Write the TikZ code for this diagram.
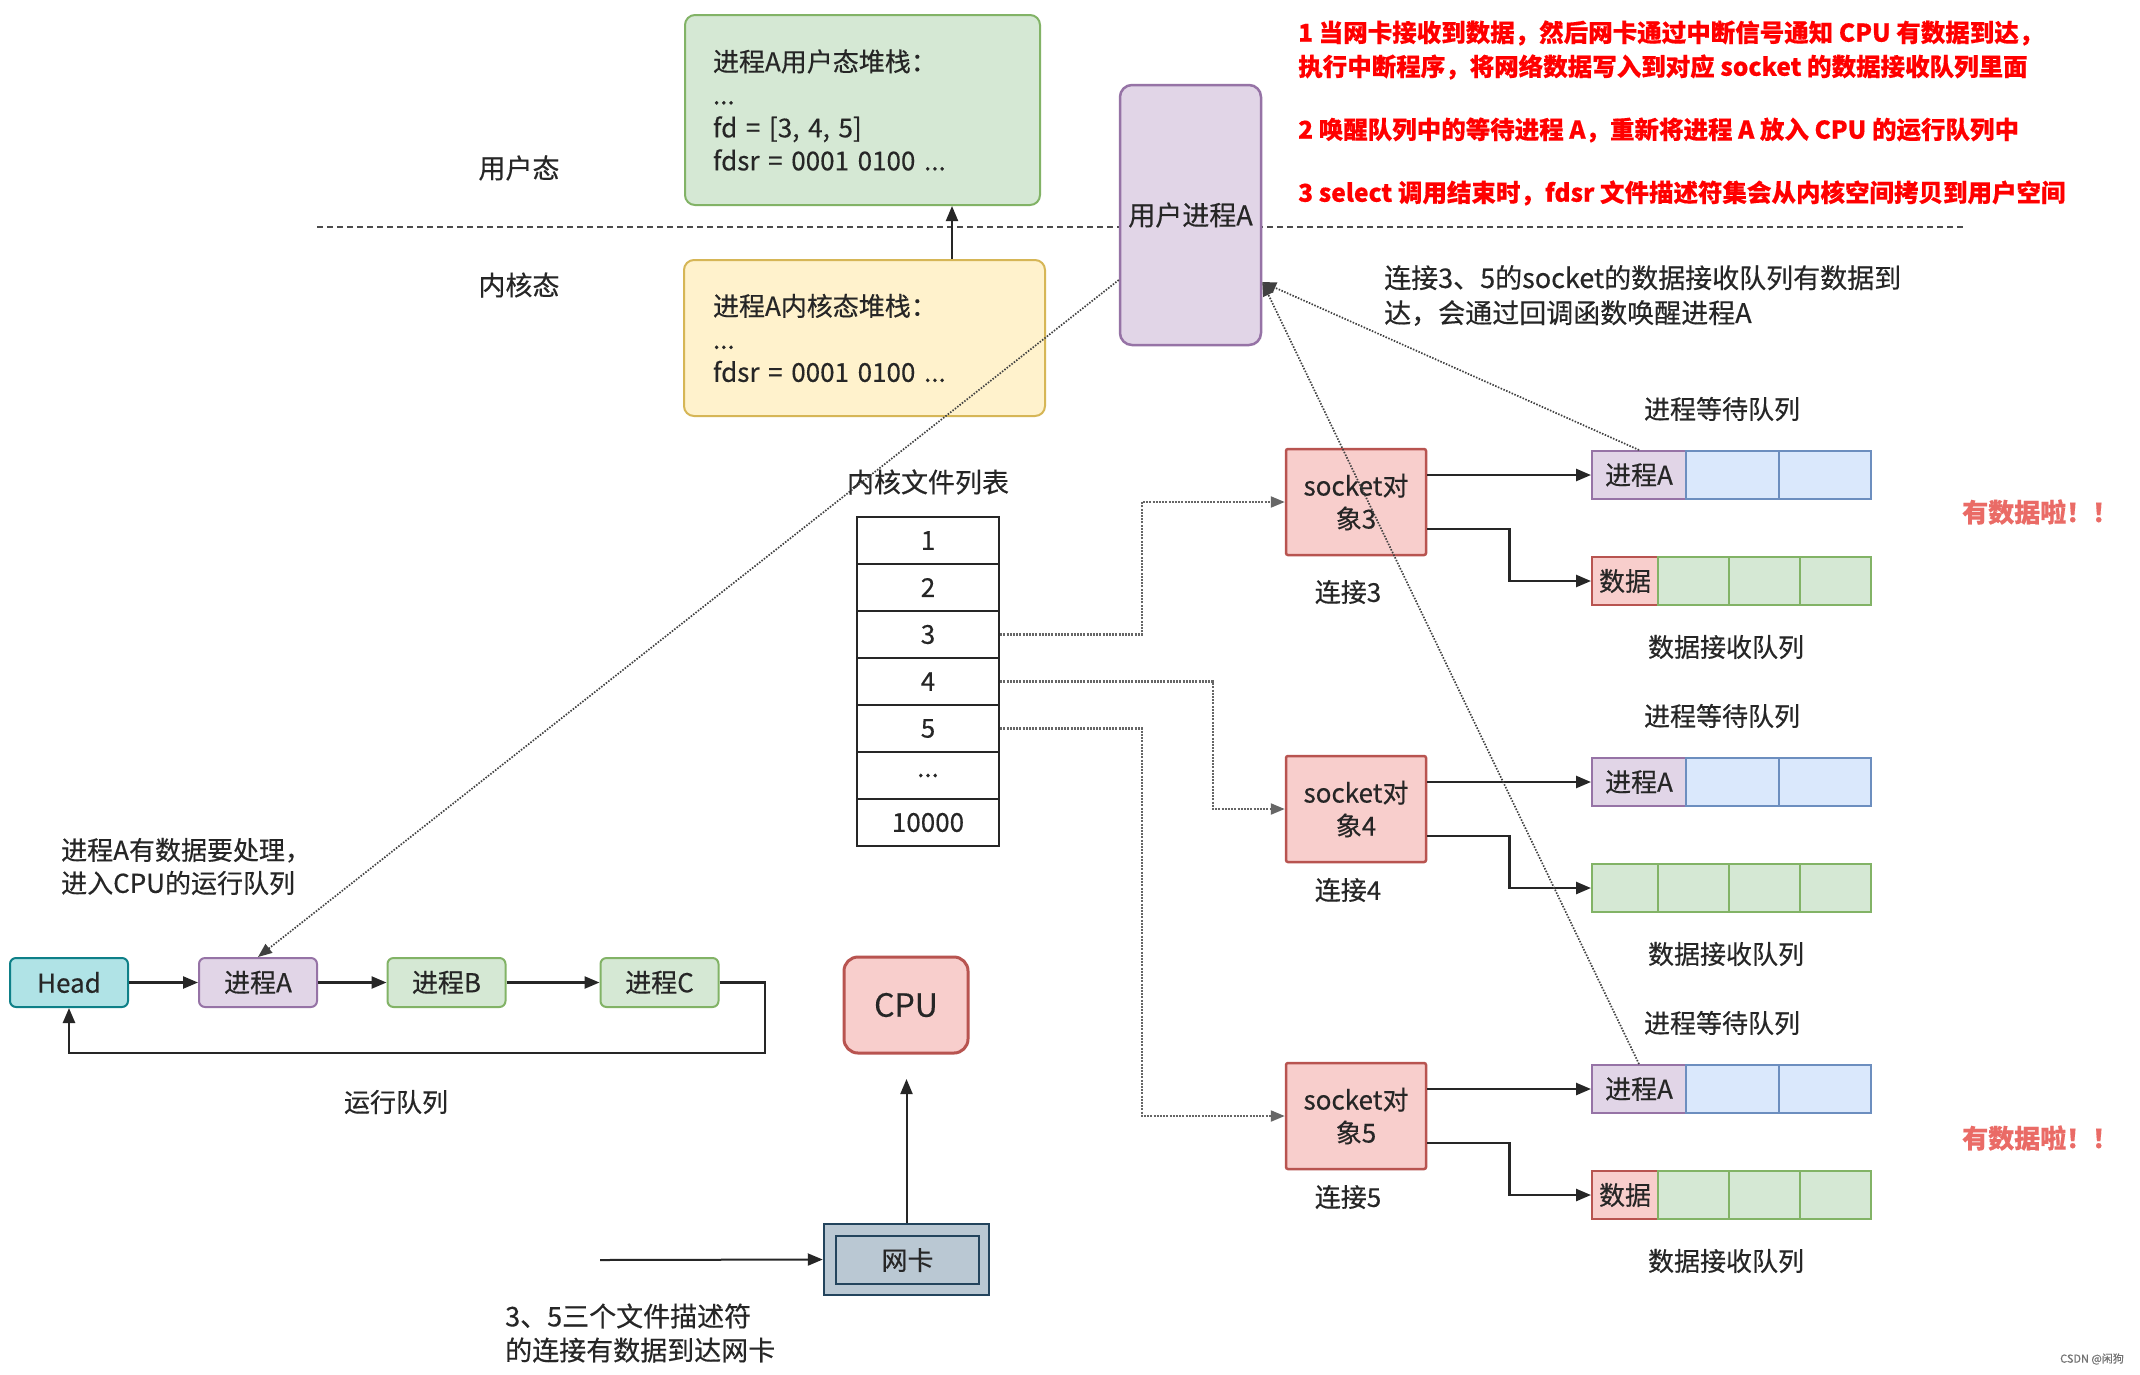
\documentclass[tikz,border=0pt]{standalone}
\usepackage{fontspec}
\setmainfont{Noto Sans CJK SC}[FakeBold=0.4]
\usetikzlibrary{arrows.meta}
\definecolor{tcol}{HTML}{262626}
\definecolor{gF}{HTML}{D5E8D4}\definecolor{gD}{HTML}{82B366}
\definecolor{yF}{HTML}{FFF2CC}\definecolor{yD}{HTML}{D6B656}
\definecolor{pF}{HTML}{E1D5E7}\definecolor{pD}{HTML}{9673A6}
\definecolor{rF}{HTML}{F8CECC}\definecolor{rD}{HTML}{B85450}
\definecolor{bF}{HTML}{DAE8FC}\definecolor{bD}{HTML}{6C8EBF}
\definecolor{cF}{HTML}{B0E3E6}\definecolor{cD}{HTML}{0E8088}
\definecolor{nF}{HTML}{BAC8D3}\definecolor{nD}{HTML}{23445D}
\definecolor{redtxt}{HTML}{FF0000}
\definecolor{pinktxt}{HTML}{EA6B66}
\newcommand\tdots{...}
\begin{document}
\begin{tikzpicture}[x=1pt,y=-1pt,
  base/.style={font=\fontsize{26}{33}\selectfont, text=tcol},
  box/.style={base, draw, line width=2pt, inner sep=0pt, align=center},
  rq/.style={box, rounded corners=6pt, minimum width=118pt, minimum height=49pt},
  sock/.style={box, fill=rF, draw=rD, line width=2.5pt, minimum width=140pt, minimum height=106pt, rounded corners=2pt},
  qc/.style={base, draw, line width=2pt, inner sep=0pt, minimum height=48pt},
  cell/.style={base, draw=black!85, line width=2.5pt, inner sep=0pt, minimum width=142pt, minimum height=47pt},
  redt/.style={font=\bfseries\fontsize{24.5}{30}\selectfont, text=redtxt, anchor=west, inner sep=0pt},
  arr/.style={-{Triangle[length=15pt,width=12pt]}, line width=2.5pt, draw=black!85},
  tbl/.style={dash pattern=on 2pt off 1.2pt, line width=2.2pt, draw=black!60, -{Triangle[length=14pt,width=11pt]}},
  fine/.style={dash pattern=on 1.5pt off 1.5pt, line width=1.7pt, draw=black!75, -{Triangle[length=14pt,width=11pt]}},
]
\useasboundingbox (0,0) rectangle (2140,1374);
\fill[white] (0,0) rectangle (2140,1374);

% state separator
\coordinate (dl) at (317,227);
\coordinate (dr) at (1965,227);
\draw[dash pattern=on 6pt off 4pt, line width=2.8pt, draw=black!70] (dl) -- (dr);

% stacks
\node[box, rounded corners=10pt, fill=gF, draw=gD, minimum width=355pt, minimum height=190pt, text width=299pt, align=left] (us) at (862.5,110)
  {进程A用户态堆栈：\\...\\fd = [3, 4, 5]\\fdsr = 0001 0100 ...};
\node[box, rounded corners=10pt, fill=yF, draw=yD, minimum width=361pt, minimum height=156pt, text width=303pt, align=left] (ks) at (864.5,338)
  {进程A内核态堆栈：\\...\\fdsr = 0001 0100 ...};
\draw[arr, line width=2pt] (952,0 |- ks.north) -- (952,0 |- us.south);

\node[base, font=\fontsize{27}{33}\selectfont] (lu) at (519,168) {用户态};
\node[base, font=\fontsize{27}{33}\selectfont] (lk) at (519,285) {内核态};

% user process
\node[box, rounded corners=12pt, fill=pF, draw=pD, line width=2.5pt, minimum width=141pt, minimum height=260pt, font=\fontsize{27}{33}\selectfont] (ua) at (1190.5,215) {用户进程A};

% red notes
\node[redt] (n1) at (1298,33) {1 当网卡接收到数据，然后网卡通过中断信号通知 CPU 有数据到达，};
\node[redt] (n1b) at (1298,67) {执行中断程序，将网络数据写入到对应 socket 的数据接收队列里面};
\node[redt] (n2) at (1298,130) {2 唤醒队列中的等待进程 A，重新将进程 A 放入 CPU 的运行队列中};
\node[redt] (n3) at (1298,193) {3 select 调用结束时，fdsr 文件描述符集会从内核空间拷贝到用户空间};

\node[base, font=\fontsize{27}{35}\selectfont, align=left, anchor=west, inner sep=0pt] (cb) at (1384,295.5)
  {连接3、5的socket的数据接收队列有数据到\\达，会通过回调函数唤醒进程A};

% kernel file table
\node[base, font=\fontsize{27}{33}\selectfont] (ftl) at (928,482) {内核文件列表};
\foreach \k/\t in {1/1,2/2,3/3,4/4,5/5,6/\tdots,7/10000}
  \node[cell] (r\k) at (928,{540.5+47*(\k-1)}) {\t};

% sockets and queues
\foreach \i/\y/\ly/\dfill/\ddraw/\dtxt in {3/502/592/rF/rD/数据, 4/809/890/gF/gD/{}, 5/1116/1197/rF/rD/数据}{
  \node[sock] (s\i) at (1356,\y) {socket对\\象\i};
  \node[base] (cl\i) at (1348,\ly) {连接\i};
  \node[qc, fill=pF, draw=pD, minimum width=94pt] (wqa\i) at (1639,\y-27) {进程A};
  \node[qc, fill=bF, draw=bD, minimum width=93pt] (wqb\i) at (1732.5,\y-27) {};
  \node[qc, fill=bF, draw=bD, minimum width=92pt] (wqc\i) at (1825,\y-27) {};
  \node[qc, fill=\dfill, draw=\ddraw, minimum width=66pt] (dqa\i) at (1625,\y+79) {\dtxt};
  \node[qc, fill=gF, draw=gD, minimum width=71pt] (dqb\i) at (1693.5,\y+79) {};
  \node[qc, fill=gF, draw=gD, minimum width=71pt] (dqc\i) at (1764.5,\y+79) {};
  \node[qc, fill=gF, draw=gD, minimum width=71pt] (dqd\i) at (1835.5,\y+79) {};
  \node[base] (wl\i) at (1722,\y-93) {进程等待队列};
  \node[base] (rl\i) at (1726,\y+145) {数据接收队列};
  \draw[arr] (s\i.east |- wqa\i.west) -- (wqa\i.west);
  \draw[arr] ([yshift=-27pt]s\i.east) -- ++(82,0) |- (dqa\i.west);
}
\node[font=\bfseries\fontsize{26}{30}\selectfont, text=pinktxt, anchor=west, inner sep=0pt] (hd3) at (1962,512) {有数据啦！！};
\node[font=\bfseries\fontsize{26}{30}\selectfont, text=pinktxt, anchor=west, inner sep=0pt] (hd5) at (1962,1138) {有数据啦！！};

% table -> sockets
\draw[tbl] (r3.east) -- (1142,0 |- r3.east) |- (s3.west);
\draw[tbl] (r4.east) -- (1213,0 |- r4.east) |- (s4.west);
\draw[tbl] (r5.east) -- (1142,0 |- r5.east) |- (s5.west);

% run queue
\node[rq, fill=cF, draw=cD] (hd) at (69,982.5) {Head};
\node[rq, fill=pF, draw=pD] (pa) at (258,982.5) {进程A};
\node[rq, fill=gF, draw=gD] (pb) at (446.5,982.5) {进程B};
\node[rq, fill=gF, draw=gD] (pc) at (659.5,982.5) {进程C};
\draw[arr] (hd.east) -- (pa.west);
\draw[arr] (pa.east) -- (pb.west);
\draw[arr] (pb.east) -- (pc.west);
\draw[arr] (pc.east) -- (765,0 |- pc.east) -- (765,1053) -| (hd.south);
\node[base] (rql) at (396,1102) {运行队列};
\node[base, align=left, anchor=west, inner sep=0pt] (nA) at (61,866.5) {进程A有数据要处理，\\进入CPU的运行队列};

% CPU and NIC
\node[box, rounded corners=14pt, fill=rF, draw=rD, line width=3pt, minimum width=124pt, minimum height=96pt, font=\fontsize{32}{36}\selectfont] (cpu) at (906,1005) {CPU};
\node[box, fill=nF, draw=nD, line width=2.5pt, minimum width=165pt, minimum height=71pt] (nico) at (906.5,1259.5) {};
\node[box, fill=nF, draw=nD, line width=2.5pt, minimum width=143pt, minimum height=48pt] (nici) at (907.5,1260) {网卡};
\coordinate (cpuin) at (906.5,1079);
\coordinate (nicsrc) at (600,1260);
\draw[arr, line width=2pt] (nico.north) -- (cpuin);
\draw[arr, line width=2pt] (nicsrc) -- (nico.west);
\node[base, font=\fontsize{27}{34}\selectfont, align=left, anchor=west, inner sep=0pt] (nn) at (505,1333) {3、5三个文件描述符\\的连接有数据到达网卡};

% wake-up callbacks
\coordinate (uat) at ([yshift=-67pt]ua.east);
\coordinate (uaw) at ([yshift=-65pt]ua.west);
\draw[fine] (wqa3.north) -- (uat);
\draw[fine] (wqa5.north) -- (uat);
\draw[fine] (uaw) -- (pa.north);

\node[font=\fontsize{11}{12}\selectfont, text=black!55, inner sep=0pt] (wm) at (2092,1359) {CSDN @闲狗};
\end{tikzpicture}
\end{document}
